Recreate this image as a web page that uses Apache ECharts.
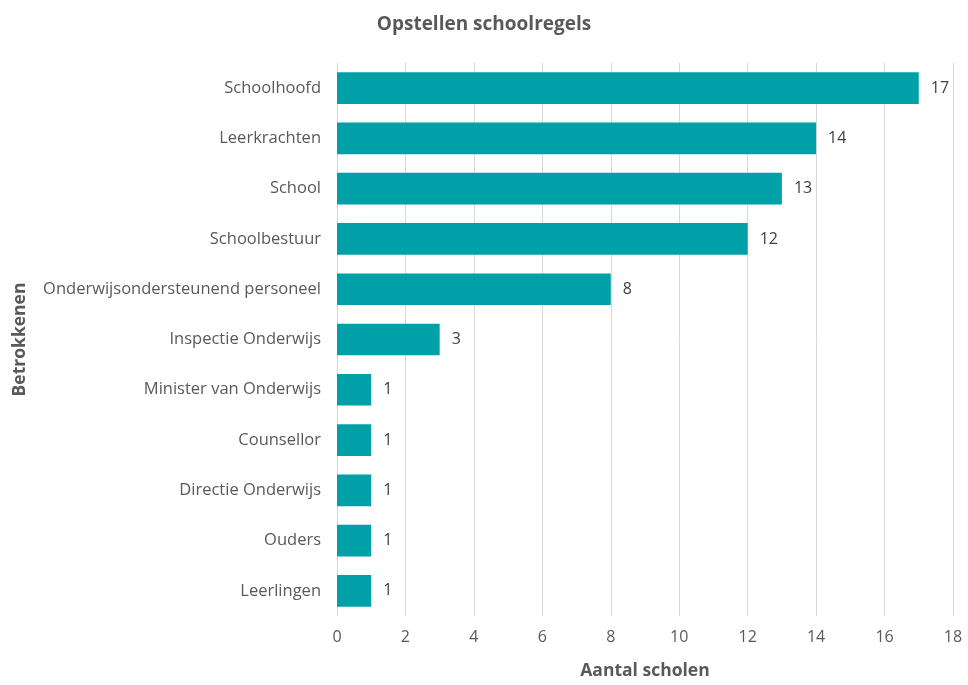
<!DOCTYPE html>
<html>
<head>
<meta charset="utf-8">
<script src="https://cdn.jsdelivr.net/npm/echarts@6/dist/echarts.min.js"></script>
<style>html,body{margin:0;padding:0;background:#fff}#c{width:968px;height:685px}</style>
</head>
<body>
<div id="c"></div>
<script>
const titleText = "Opstellen schoolregels";
const categories = ["Schoolhoofd","Leerkrachten","School","Schoolbestuur","Onderwijsondersteunend personeel","Inspectie Onderwijs","Minister van Onderwijs","Counsellor","Directie Onderwijs","Ouders","Leerlingen"];
const values = [17,14,13,12,8,3,1,1,1,1,1];
const xName = "Aantal scholen";
const yName = "Betrokkenen";

const font = "'Open Sans', 'Noto Sans', sans-serif";
const chart = echarts.init(document.getElementById('c'));
chart.setOption({
  animation: false,
  title: {
    text: titleText, left: 'center', top: 10,
    textStyle: { fontFamily: font, fontSize: 19, fontWeight: 'bold', color: '#595959' }
  },
  grid: { left: 337, right: 15, top: 63, bottom: 63, containLabel: false },
  xAxis: {
    type: 'value', min: 0, max: 18, interval: 2,
    name: xName, nameLocation: 'middle', nameGap: 46,
    nameTextStyle: { fontFamily: font, fontSize: 17.5, fontWeight: 'bold', color: '#595959' },
    axisLine: { show: false }, axisTick: { show: false },
    axisLabel: { fontFamily: font, fontSize: 16, color: '#595959', margin: 13 },
    splitLine: { lineStyle: { color: '#d9d9d9' } }
  },
  yAxis: {
    type: 'category', data: categories, inverse: true,
    name: yName, nameLocation: 'middle', nameGap: 308, nameRotate: 90,
    nameTextStyle: { fontFamily: font, fontSize: 17.5, fontWeight: 'bold', color: '#595959' },
    axisLine: { show: false }, axisTick: { show: false },
    axisLabel: { fontFamily: font, fontSize: 16.5, color: '#595959', margin: 16 }
  },
  series: [{
    type: 'bar', data: values, barCategoryGap: '37%',
    itemStyle: { color: '#00A0A8' },
    label: { show: true, position: 'right', distance: 12, fontFamily: font, fontSize: 16, color: '#404040' }
  }]
});
</script>
</body>
</html>
